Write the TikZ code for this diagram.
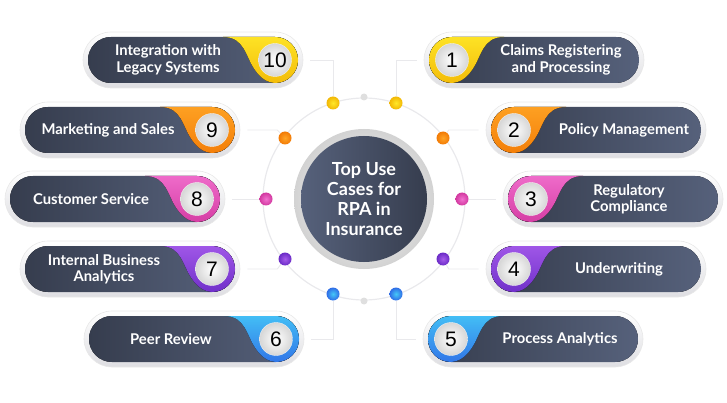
\documentclass[tikz,border=0pt]{standalone}
\usepackage{fontspec}
\setmainfont{Lato}
\newfontfamily\numfont{Liberation Sans}
\usepackage{tikz}
\usetikzlibrary{positioning,shapes.misc,calc}

\definecolor{slateA}{HTML}{363D4E}
\definecolor{slateB}{HTML}{56617B}
\definecolor{yelA}{HTML}{FFE829}
\definecolor{yelB}{HTML}{F2B705}
\definecolor{orA}{HTML}{FFA526}
\definecolor{orB}{HTML}{F27A05}
\definecolor{pkA}{HTML}{F271CF}
\definecolor{pkB}{HTML}{D2389F}
\definecolor{puA}{HTML}{A65CEB}
\definecolor{puB}{HTML}{6A2BC6}
\definecolor{blA}{HTML}{45C8F7}
\definecolor{blB}{HTML}{2F6CE6}
\definecolor{rimgray}{HTML}{DEDEE2}
\definecolor{ringgray}{HTML}{E9E9EC}

\begin{document}
\begin{tikzpicture}[x=1pt,y=-1pt,
  pillrim/.style={rounded rectangle, minimum width=220pt, minimum height=56pt, inner sep=0pt,
    top color=white, bottom color=rimgray, draw=gray!18, line width=0.6pt},
  numball/.style={circle, minimum size=33pt, inner sep=0pt, shading=radial,
    inner color=white, outer color=gray!32, draw=gray!12,
    font=\numfont\fontsize{21}{21}\selectfont, text=black},
  casetext/.style={text=white, font=\bfseries\fontsize{14.8}{16.5}\selectfont, align=center},
  ringdot/.style={circle, minimum size=13pt, inner sep=0pt, shading=radial},
  conn/.style={draw=ringgray, line width=0.9pt}]
\useasboundingbox (0,0) rectangle (727,403);

% ring and hub
\draw[ringgray, line width=1.2pt] (364,199) circle[radius=101];
\node[circle, minimum size=140pt, shading=radial, inner color=white, outer color=gray!35] (hubrim) at (364,199) {};
\node[circle, minimum size=126pt, left color=slateB, right color=slateA, text=white,
  font=\bfseries\fontsize{18}{20}\selectfont, align=center] (hub) at (hubrim) {Top Use\\Cases for\\RPA in\\Insurance};

% pills on the left (colour on the right end)
\foreach \n/\x/\y/\c/\tx/\txt in {10/193/60/yel/168/{Integration with\\Legacy Systems},
    9/130/130/or/108/{Marketing and Sales}, 8/115/199/pk/91/{Customer Service},
    7/130/269/pu/104/{Internal Business\\Analytics}, 6/194/339/bl/171/{Peer Review}}{
  \node[pillrim] (p\n) at (\x,\y) {};
  \begin{scope}[shift={(\x+82,\y)}]
    \clip[rounded corners=23pt] (-187,-23) rectangle (23,23);
    \fill[left color=slateA, right color=slateB] (-187,-23) rectangle (23,23);
    \fill[top color=\c A, bottom color=\c B] (-52,-30) -- (-52,-23) .. controls (-30,-23) and (-30,-4) .. (-20,10)
      .. controls (-13,20) and (-6,23) .. (2,23) -- (2,30) -- (40,30) -- (40,-30) -- cycle;
  \end{scope}
  \node[numball] (n\n) at (\x+82,\y) {\n};
  \node[casetext] (t\n) at (\tx,\y) {\txt};
}
% pills on the right (colour on the left end)
\foreach \n/\x/\y/\c/\tx/\txt in {1/534/60/yel/561/{Claims Registering\\and Processing},
    2/596/130/or/624/{Policy Management}, 3/613/199/pk/629/{Regulatory\\Compliance},
    4/596/269/pu/619/{Underwriting}, 5/533/339/bl/560/{Process Analytics}}{
  \node[pillrim] (p\n) at (\x,\y) {};
  \begin{scope}[shift={(\x-82,\y)}, xscale=-1]
    \clip[rounded corners=23pt] (-187,-23) rectangle (23,23);
    \fill[left color=slateA, right color=slateB] (-187,-23) rectangle (23,23);
    \fill[top color=\c A, bottom color=\c B] (-52,-30) -- (-52,-23) .. controls (-30,-23) and (-30,-4) .. (-20,10)
      .. controls (-13,20) and (-6,23) .. (2,23) -- (2,30) -- (40,30) -- (40,-30) -- cycle;
  \end{scope}
  \node[numball] (n\n) at (\x-82,\y) {\n};
  \node[casetext] (t\n) at (\tx,\y) {\txt};
}

% dots on the ring
\foreach \n/\x/\y/\c in {1/396/103/yel, 2/443/138/or, 3/462/199/pk, 4/443/259/pu, 5/396/294/bl,
    6/333/294/bl, 7/285/259/pu, 8/266/199/pk, 9/285/138/or, 10/333/103/yel}{
  \node[ringdot, inner color=\c A, outer color=\c B] (d\n) at (\x,\y) {};
}
\node[circle, fill=gray!25, minimum size=7pt, inner sep=0pt] (gtop) at (364,97) {};
\node[circle, fill=gray!25, minimum size=7pt, inner sep=0pt] (gbot) at (364,301) {};

% connectors
\draw[conn] (d1) |- ($(p1.west)+(-7,0)$);
\draw[conn] (d2) -- ($(p2.west)+(-37,0)$) -- ($(p2.west)+(-7,0)$);
\draw[conn] (d3) -- ($(p3.west)+(-7,0)$);
\draw[conn] (d4) -- ($(p4.west)+(-37,0)$) -- ($(p4.west)+(-7,0)$);
\draw[conn] (d5) |- ($(p5.west)+(-7,0)$);
\draw[conn] (d6) |- ($(p6.east)+(7,0)$);
\draw[conn] (d7) -- ($(p7.east)+(37,0)$) -- ($(p7.east)+(7,0)$);
\draw[conn] (d8) -- ($(p8.east)+(7,0)$);
\draw[conn] (d9) -- ($(p9.east)+(37,0)$) -- ($(p9.east)+(7,0)$);
\draw[conn] (d10) |- ($(p10.east)+(7,0)$);
\end{tikzpicture}
\end{document}
